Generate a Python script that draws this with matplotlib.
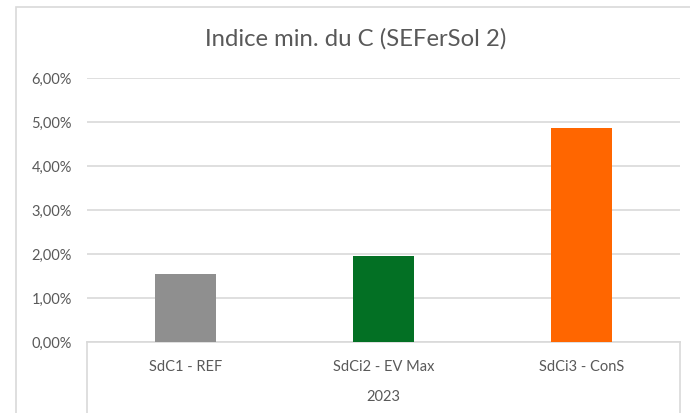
import matplotlib
matplotlib.use("Agg")
from matplotlib import pyplot as plt
from matplotlib.patches import Rectangle
from matplotlib.ticker import FuncFormatter

# data
categories = ["SdC1 - REF", "SdCi2 - EV Max", "SdCi3 - ConS"]
values = [0.0155, 0.0195, 0.0487]
colors = ["#8f8f8f", "#037024", "#ff6600"]
group_label = "2023"
title = "Indice min. du C (SEFerSol 2)"

plt.rcParams['font.family'] = ['Lato', 'DejaVu Sans']
text_col = "#595959"
line_col = "#d9d9d9"

fig = plt.figure(figsize=(6.9, 4.13), dpi=100)

# chart frame (cut off at the right / bottom like the screenshot)
fig.patches.append(Rectangle((16 / 690, -0.2), 1.2, 1.2 - 7 / 413,
                             transform=fig.transFigure, fill=False,
                             edgecolor=line_col, linewidth=1.2))

ax = fig.add_axes([87 / 690, 1 - 342 / 413, (680 - 87) / 690, (342 - 78) / 413])

x = range(len(categories))
ax.bar(x, values, width=0.31, color=colors, zorder=3)

ax.set_xlim(-0.5, 2.5)
ax.set_ylim(0, 0.06)
ax.set_yticks([i / 100 for i in range(7)])
ax.yaxis.set_major_formatter(FuncFormatter(lambda v, p: f"{v*100:.2f}%".replace(".", ",")))
ax.grid(axis="y", color=line_col, linewidth=1.2, zorder=0)

ax.set_xticks(list(x))
ax.set_xticklabels(categories)
ax.tick_params(axis="both", length=0, colors=text_col, labelsize=10.5)
ax.tick_params(axis="y", pad=11)
ax.tick_params(axis="x", pad=13)

for s in ["top", "right", "left"]:
    ax.spines[s].set_visible(False)
ax.spines["bottom"].set_color(line_col)
ax.spines["bottom"].set_linewidth(1.2)

# multi-level category axis box
for xx in (0, 1):
    ax.plot([xx, xx], [0, -0.4], transform=ax.transAxes, color=line_col,
            linewidth=1.2, clip_on=False)
ax.text(0.5, -0.208, group_label, transform=ax.transAxes, ha="center",
        va="center", color=text_col, fontsize=10.5)

fig.text(356 / 690, 1 - 39 / 413, title, ha="center", va="center",
         color=text_col, fontsize=17.2)

fig.savefig("out.png", dpi=100)
